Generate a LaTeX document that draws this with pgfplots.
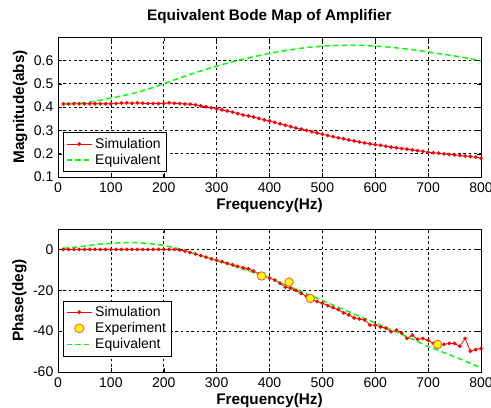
\documentclass[border=0pt]{standalone}
\usepackage{pgfplots}
\pgfplotsset{compat=1.18}
\usepackage{fontspec}
\setmainfont{Liberation Sans}
\definecolor{mred}{rgb}{1,0,0}
\definecolor{mgreen}{rgb}{0,1,0}
\definecolor{myel}{rgb}{1,1,0}

\pgfplotsset{
  bode/.style={
    scale only axis, width=317.25pt, anchor=south west,
    xmin=0, xmax=800, xtick={0,100,...,800},
    grid=major, major grid style={black, line width=0.4pt, dash pattern=on 2pt off 2pt},
    axis line style={black, line width=0.5pt},
    tick align=inside, major tick length=3pt, tick style={black},
    /pgf/number format/assume math mode=true,
    ticklabel style={font=\fontsize{10.5}{12}\selectfont},
    xticklabel style={yshift=-1pt},
    label style={font=\fontsize{11.5}{13}\selectfont\bfseries},
    xlabel={Frequency(Hz)},
    xlabel style={yshift=3pt},
    ylabel style={yshift=-2pt},
    legend cell align=left,
    legend style={font=\fontsize{10.5}{12}\selectfont, draw=black, line width=0.5pt,
      inner sep=2pt, row sep=-1pt, anchor=south west},
    legend image post style={xscale=1.1},
  },
}

\begin{document}
\begin{tikzpicture}
\path[use as bounding box] (0,0) rectangle (368.25pt,305.25pt);

\node[font=\fontsize{11.5}{13}\selectfont\bfseries] at (202pt,292.5pt) {Equivalent Bode Map of Amplifier};

\begin{axis}[bode, at={(43.5pt,172.5pt)}, height=105pt,
  ymin=0.1, ymax=0.7, ytick={0.1,0.2,...,0.6},
  yticklabels={0.1,0.2,0.3,0.4,0.5,0.6},
  ylabel={Magnitude(abs)},
  legend style={at={(0.012,0.036)}}]
\addplot[mred, line width=0.6pt, mark=*, mark size=1.1pt] coordinates {
(10,0.413)(20,0.413)(30,0.414)(40,0.414)(50,0.414)(60,0.414)(70,0.414)(80,0.414)(90,0.414)(100,0.414)
(110,0.415)(120,0.417)(130,0.418)(140,0.416)(150,0.418)(160,0.416)(170,0.415)(180,0.415)(190,0.415)(200,0.415)
(210,0.418)(220,0.416)(230,0.415)(240,0.413)(250,0.412)(260,0.409)(270,0.405)(280,0.401)(290,0.397)(300,0.393)
(310,0.388)(320,0.383)(330,0.378)(340,0.372)(350,0.366)(360,0.362)(370,0.357)(380,0.351)(390,0.345)(400,0.340)
(410,0.334)(420,0.328)(430,0.322)(440,0.316)(450,0.310)(460,0.305)(470,0.300)(480,0.294)(490,0.289)(500,0.283)
(510,0.278)(520,0.273)(530,0.268)(540,0.264)(550,0.259)(560,0.254)(570,0.250)(580,0.246)(590,0.242)(600,0.239)
(610,0.236)(620,0.232)(630,0.228)(640,0.225)(650,0.222)(660,0.219)(670,0.216)(680,0.213)(690,0.210)(700,0.206)
(710,0.204)(720,0.202)(730,0.199)(740,0.197)(750,0.195)(760,0.192)(770,0.190)(780,0.188)(790,0.185)(800,0.180)
};
\addlegendentry{Simulation}
\addplot[mgreen, line width=1.1pt, dash pattern=on 4pt off 2.5pt] coordinates {
(10,0.415)(30,0.416)(50,0.418)(70,0.424)(100,0.438)(130,0.452)(150,0.463)(175,0.480)(200,0.500)
(225,0.520)(250,0.540)(275,0.558)(300,0.575)(325,0.591)(350,0.605)(375,0.618)(400,0.630)(425,0.640)
(450,0.649)(475,0.656)(500,0.661)(525,0.664)(550,0.665)(575,0.664)(600,0.661)(625,0.657)(650,0.651)
(675,0.644)(700,0.636)(725,0.627)(750,0.619)(775,0.609)(800,0.598)
};
\addlegendentry{Equivalent}
\end{axis}

\begin{axis}[bode, at={(43.5pt,26.25pt)}, height=107.25pt,
  ymin=-60, ymax=10, ytick={-60,-40,-20,0},
  ylabel={Phase(deg)},
  legend style={at={(0.012,0.11)}}]
\addplot[mred, line width=0.6pt, mark=*, mark size=1.1pt] coordinates {
(10,0)(20,0)(30,0)(40,0)(50,0)(60,0)(70,0)(80,0)(90,0)(100,0)
(110,0)(120,0)(130,0)(140,0)(150,0)(160,0)(170,0)(180,0)(190,0)(200,0)
(210,0)(220,0)(230,-0.3)(240,-0.8)(250,-1.5)(260,-2.2)(270,-3)(280,-3.8)(290,-4.6)(300,-5.3)
(310,-6)(320,-6.8)(330,-7.5)(340,-8.3)(350,-9)(360,-9.5)(370,-10.6)(380,-12)(390,-13)(400,-14)
(410,-15)(420,-16.5)(430,-18.5)(440,-19)(450,-20)(460,-21.5)(470,-23)(480,-24.5)(490,-25.5)(500,-26.3)
(510,-27.5)(520,-28.5)(530,-29.5)(540,-31)(550,-32)(560,-33.5)(570,-34)(580,-34.5)(590,-37)(600,-37)
(610,-38)(620,-38.5)(630,-40.3)(640,-39.5)(650,-41)(660,-43.5)(670,-42)(680,-44)(690,-43.6)(700,-44.5)
(710,-46)(720,-46.5)(730,-46.5)(740,-46)(750,-46)(760,-47.4)(770,-43.6)(780,-49.8)(790,-49)(800,-48.5)
};
\addlegendentry{Simulation}
\addplot[only marks, mark=*, mark size=3.2pt, mark options={fill=myel, draw=mred!70, line width=0.6pt}] coordinates {
(385,-13)(437,-16)(477,-24)(718,-46.5)
};
\addlegendentry{Experiment}
\addplot[mgreen, line width=1.1pt, dash pattern=on 4pt off 2.5pt] coordinates {
(10,0.5)(30,1)(50,1.6)(75,2.5)(100,3)(130,3.4)(150,3.3)(175,2.8)(200,2)(225,0.6)(250,-1.5)
(275,-3.4)(300,-5.5)(325,-7.5)(350,-9.6)(375,-11.8)(400,-14)(425,-16.8)(450,-19.5)(475,-22.2)(500,-25)
(525,-27.8)(550,-30.5)(575,-33.2)(600,-36)(625,-38.8)(650,-41.5)(675,-44.5)(700,-47.5)(725,-50)
(750,-52.5)(775,-55.2)(800,-58)
};
\addlegendentry{Equivalent}
\end{axis}
\end{tikzpicture}
\end{document}
